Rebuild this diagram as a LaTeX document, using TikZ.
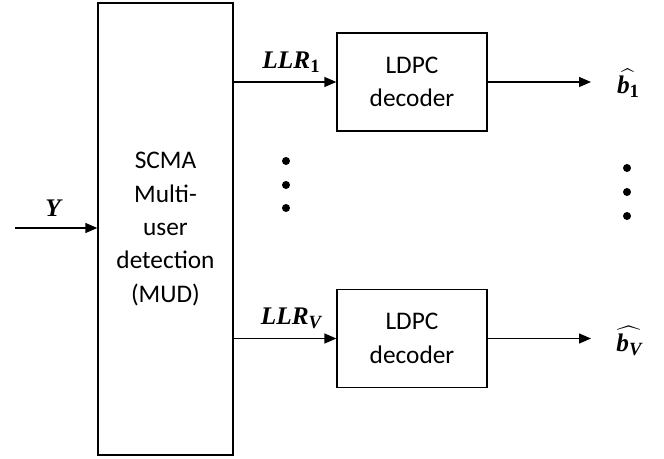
\RequirePackage{fix-cm}
\documentclass[tikz,border=0pt]{standalone}
\usepackage{fontspec}
\usepackage{amsmath}
\setmainfont{Carlito}
\newfontfamily\lblfont{Liberation Serif}
\newcommand{\lblsub}[1]{\raisebox{-0.35ex}{\fontsize{14}{14}\selectfont #1}}
\usetikzlibrary{arrows.meta}

\tikzset{every picture/.style={line width=1pt}}
\tikzset{
	blockbox/.style={draw, inner sep=0pt, align=center, font=\fontsize{19}{25}\selectfont},
	sigarrow/.style={-{Triangle[length=9pt,width=7.5pt]}},
	siglabel/.style={inner sep=1pt, font=\lblfont\fontsize{19}{22}\selectfont\bfseries\itshape}
}

\begin{document}
\begin{tikzpicture}[x=0.75pt,y=0.75pt,yscale=-1,xscale=1]
	\useasboundingbox (0,0) rectangle (664,459);

	% Blocks
	\node [blockbox, minimum width=101.25pt, minimum height=339pt] (mud) at (165.5,229) {SCMA\\Multi-\\user\\detection\\(MUD)};
	\node [blockbox, minimum width=112.5pt, minimum height=73.5pt] (dec1) at (412,82) {LDPC\\decoder};
	\node [blockbox, minimum width=112.5pt, minimum height=73.5pt] (decV) at (412,338.5) {LDPC\\decoder};

	% Free ends
	\coordinate (yin) at (15,228);
	\coordinate (out1) at (591,82);
	\coordinate (outV) at (591,338.5);

	% Connectors
	\draw [sigarrow] (yin) -- (yin -| mud.west);
	\draw [sigarrow] (mud.east |- dec1) -- (dec1.west);
	\draw [sigarrow] (mud.east |- decV) -- (decV.west);
	\draw [sigarrow] (dec1.east) -- (out1);
	\draw [sigarrow] (decV.east) -- (outV);

	% Text Node
	\node [siglabel] (ylab) at (53,208) {Y};
	% Text Node
	\node [siglabel] (llr1) at (291,62) {LLR\lblsub{\upshape 1}};
	% Text Node
	\node [siglabel] (llrV) at (291,318) {LLR\lblsub{V}};
	% Text Node
	\node [siglabel] (bhat1) at (628,83) {$\widehat{\text{b\lblsub{\upshape 1}}}$};
	% Text Node
	\node [siglabel] (bhatV) at (629,341) {$\widehat{\text{b\lblsub{V}}}$};

	% Dots
	\foreach \yy in {161,185,208} {
		\fill (286,\yy) circle [radius=4];
	}
	\foreach \yy in {168,192,216} {
		\fill (627,\yy) circle [radius=4];
	}
\end{tikzpicture}
\end{document}
